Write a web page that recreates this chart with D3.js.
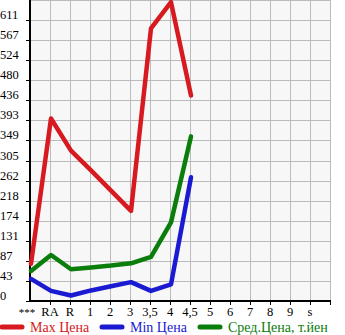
<!DOCTYPE html>
<html>
<head>
<meta charset="utf-8">
<script src="https://cdn.jsdelivr.net/npm/d3@7"></script>
<style>
  body { margin: 0; background: #fff; }
  svg text { font-family: "Liberation Serif", "DejaVu Serif", serif; font-size: 12.5px; }
  svg .legend text { font-size: 14px; }
</style>
</head>
<body>
<div id="vis"></div>
<script>
// categories along the bottom
const categories = ['***', 'RA', 'R', '1', '2', '3', '3,5', '4', '4,5', '5', '6', '7', '8', '9', 's']
// y tick labels
const yTicks = [0, 43, 87, 131, 174, 218, 262, 305, 349, 393, 436, 480, 524, 567, 611]

// series values (null = no data)
const maxPrice = [81, 397, 327, 284, 240, 196, 593, 650, 447, null, null, null, null, null, null]
const minPrice = [48, 22, 12, 23, 32, 41, 22, 36, 269, null, null, null, null, null, null]
const avgPrice = [65, 100, 69, 73, 77, 82, 96, 171, 358, null, null, null, null, null, null]

const seriesNames = ['Max Цена', 'Min Цена', 'Сред.Цена, т.йен']
const seriesColors = ['#d71920', '#1a1ad2', '#0a7d0a']

const width = 345
const height = 335
const plotLeft = 31, plotRight = 331, plotTop = 0, plotBottom = 301

const svg = d3.select('#vis').append('svg')
    .attr('width', width)
    .attr('height', height)

// x: one slot every 20px, *** sits on the axis
const x = d3.scalePoint()
    .domain(categories.concat(['']))
    .range([plotLeft, plotRight])

const y = d3.scaleLinear()
    .domain([0, 611 * 15 / 14])
    .range([plotBottom, plotTop])

// plot background
svg.append('rect')
    .attr('x', plotLeft).attr('y', plotTop)
    .attr('width', plotRight - plotLeft).attr('height', plotBottom - plotTop)
    .attr('fill', '#f7f7f7')

// grid
const gridY = d3.range(0, 16).map(i => i * 611 / 14)
svg.append('g').selectAll('line')
    .data(gridY)
    .enter().append('line')
    .attr('x1', plotLeft).attr('x2', plotRight)
    .attr('y1', d => Math.round(y(d)) + 0.5).attr('y2', d => Math.round(y(d)) + 0.5)
    .attr('stroke', '#bbb').attr('stroke-width', 1)

svg.append('g').selectAll('line')
    .data(x.domain().slice(1))
    .enter().append('line')
    .attr('x1', d => x(d) - 0.5).attr('x2', d => x(d) - 0.5)
    .attr('y1', plotTop).attr('y2', plotBottom)
    .attr('stroke', '#bbb').attr('stroke-width', 1)

// y axis labels, left aligned, sitting on the grid line
svg.append('g').selectAll('text')
    .data(yTicks)
    .enter().append('text')
    .attr('x', 0)
    .attr('y', (d, i) => y(i * 611 / 14) - 1)
    .text(d => d)
    .attr('fill', '#000')

// y tick marks
svg.append('g').selectAll('line')
    .data(gridY.slice(0, 15))
    .enter().append('line')
    .attr('x1', plotLeft - 5).attr('x2', plotLeft)
    .attr('y1', d => Math.round(y(d)) + 0.5).attr('y2', d => Math.round(y(d)) + 0.5)
    .attr('stroke', '#000')

// x tick marks
svg.append('g').selectAll('line')
    .data(x.domain().slice(1))
    .enter().append('line')
    .attr('x1', d => x(d) - 0.5).attr('x2', d => x(d) - 0.5)
    .attr('y1', plotBottom).attr('y2', plotBottom + 4)
    .attr('stroke', '#000')

// axis lines
svg.append('line')
    .attr('x1', plotLeft - 1).attr('x2', plotLeft - 1)
    .attr('y1', plotTop).attr('y2', plotBottom + 1)
    .attr('stroke', '#000').attr('stroke-width', 2)
svg.append('line')
    .attr('x1', plotLeft - 2).attr('x2', plotRight)
    .attr('y1', plotBottom).attr('y2', plotBottom)
    .attr('stroke', '#000').attr('stroke-width', 2)

// x labels
svg.append('g').selectAll('text')
    .data(categories)
    .enter().append('text')
    .attr('x', (d, i) => x(d) - (i === 0 ? 4 : 1))
    .attr('y', plotBottom + 15)
    .attr('text-anchor', 'middle')
    .style('font-size', (d, i) => i === 0 ? '11px' : null)
    .text(d => d)
    .attr('fill', '#000')

// lines
const line = d3.line()
    .defined(d => d[1] !== null)
    .x(d => x(d[0]))
    .y(d => y(d[1]))

const allSeries = [maxPrice, minPrice, avgPrice]
allSeries.forEach((values, i) => {
    svg.append('path')
        .datum(categories.map((c, j) => [c, values[j]]))
        .attr('d', line)
        .attr('fill', 'none')
        .attr('stroke', seriesColors[i])
        .attr('stroke-width', 4.5)
        .attr('stroke-linejoin', 'round')
        .attr('stroke-linecap', 'round')
})

// legend
const legendX = [2, 102, 200]
const legend = svg.append('g').attr('class', 'legend').selectAll('g')
    .data(seriesNames)
    .enter().append('g')
    .attr('transform', (d, i) => `translate(${legendX[i]}, 327)`)

legend.append('line')
    .attr('x1', 0).attr('x2', 20)
    .attr('y1', 0).attr('y2', 0)
    .attr('stroke', (d, i) => seriesColors[i])
    .attr('stroke-width', 5)
    .attr('stroke-linecap', 'round')

legend.append('text')
    .attr('x', 28)
    .attr('y', 5)
    .text(d => d)
    .attr('fill', (d, i) => seriesColors[i])
</script>
</body>
</html>
